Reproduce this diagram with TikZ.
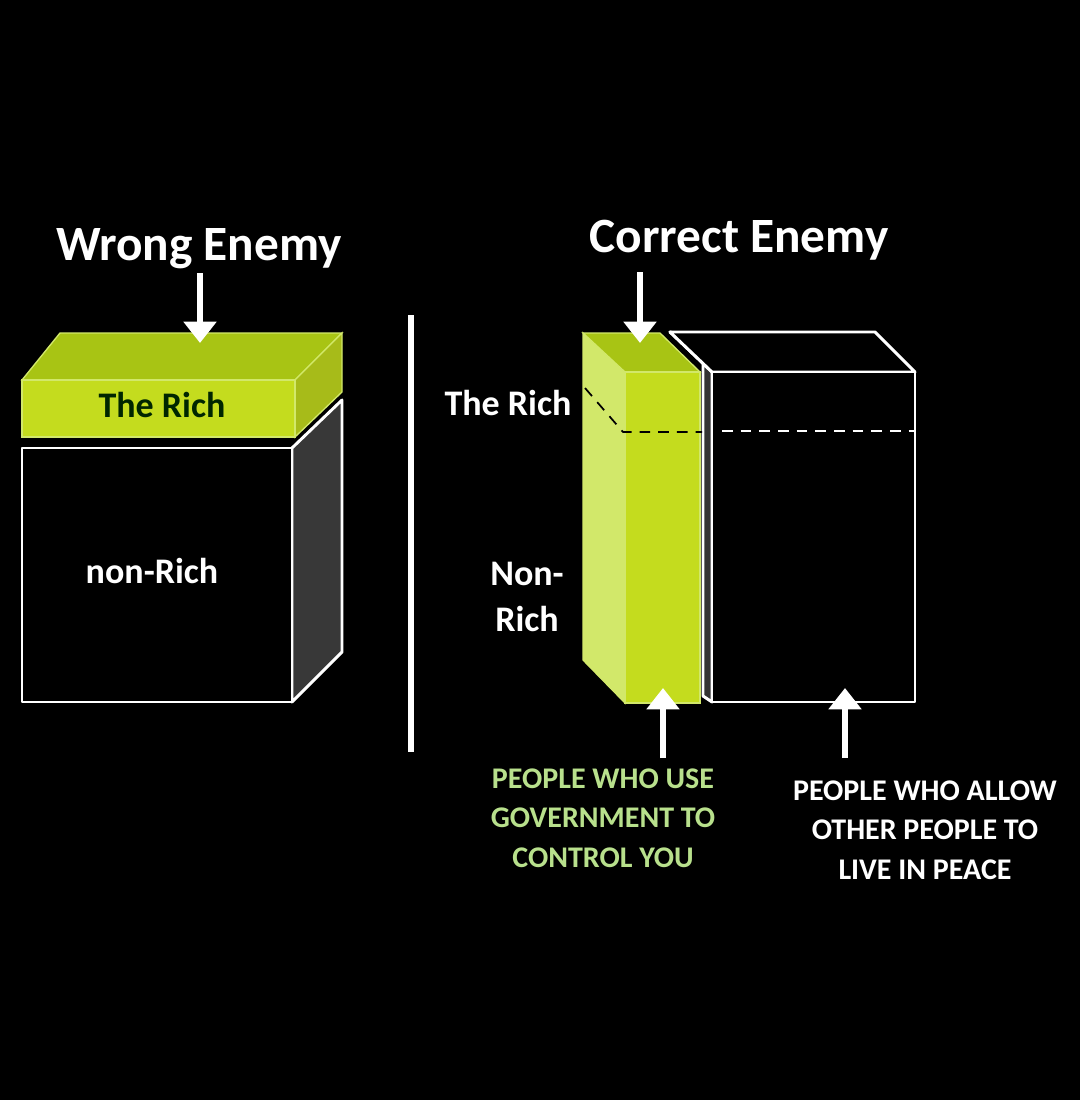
\documentclass[tikz,border=0pt]{standalone}
\usepackage{fontspec}
\setmainfont{Carlito}
\usetikzlibrary{arrows.meta}
\definecolor{lime}{HTML}{C4DC1E}
\definecolor{limel}{HTML}{D2E86A}
\definecolor{limed}{HTML}{A8C414}
\definecolor{gtext}{HTML}{B8E08C}
\tikzset{edge/.style={draw=white,line width=2.2pt,line join=round},
 arr/.style={draw=white,line width=5pt,-{Triangle[width=24pt,length=16pt]}},
 lbl/.style={text=white,font=\bfseries\fontsize{27}{31}\selectfont},
 ttl/.style={text=white,font=\bfseries\fontsize{37}{44}\selectfont},
 captext/.style={font=\bfseries\fontsize{22.5}{29.5}\selectfont,align=center}}
\begin{document}
\begin{tikzpicture}[x=0.75pt,y=-0.75pt]
\fill[black] (0,0) rectangle (1080,1100);
\useasboundingbox (0,0) rectangle (1080,1100);
% left black box
\filldraw[edge,fill=black!78!white] (292,448) -- (342,400) -- (342,652) -- (292,702) -- cycle;
\filldraw[edge,fill=black] (22,448) rectangle (292,702);
% slab
\filldraw[draw=limel,line width=1pt,fill=limed] (22,380) -- (60,333) -- (342,333) -- (295,380) -- cycle;
\filldraw[draw=limel,line width=1pt,fill=lime!85!black] (295,380) -- (342,333) -- (342,392) -- (295,437) -- cycle;
\filldraw[draw=limel,line width=1pt,fill=lime] (22,380) rectangle (295,437);
\node[font=\bfseries\fontsize{27}{31}\selectfont,text=black!85!green] (tr1) at (162,405) {The Rich};
\node[lbl] (nr1) at (152,571) {non-Rich};
\node[ttl] (we) at (199,249) {Wrong Enemy};
\coordinate (a1s) at (200,273);
\coordinate (a1e) at (200,343);
\draw[arr] (a1s) -- (a1e);
% divider
\coordinate (d1) at (411,315); \coordinate (d2) at (411,752);
\draw[white,line width=4pt] (d1) -- (d2);
% right black box
\filldraw[edge,fill=black!80!white] (670,332) -- (712,372) -- (712,702) -- (703,696) -- (703,340) -- cycle;
\filldraw[edge,fill=black] (670,332) -- (875,332) -- (915,372) -- (712,372) -- cycle;
\filldraw[edge,fill=black] (712,372) rectangle (915,702);
\draw[white,line width=1.3pt,dash pattern=on 8pt off 6pt] (722,431) -- (915,431);
% green column
\filldraw[draw=limel,line width=1pt,fill=limel] (583,333) -- (625,372) -- (625,703) -- (583,660) -- cycle;
\filldraw[draw=limel,line width=1pt,fill=limed] (583,333) -- (660,333) -- (700,372) -- (625,372) -- cycle;
\filldraw[draw=limel,line width=1pt,fill=lime] (625,372) rectangle (700,703);
\draw[black,line width=1.3pt,dash pattern=on 8pt off 6pt] (585,388) -- (623,432) -- (702,432);
\node[ttl] (ce) at (739,240) {Correct Enemy};
\coordinate (a2s) at (640,272);
\coordinate (a2e) at (640,343);
\draw[arr] (a2s) -- (a2e);
\node[lbl] (tr2) at (508,403) {The Rich};
\node[lbl,align=center,font=\bfseries\fontsize{27}{34}\selectfont] (nr2) at (527,597) {Non-\\Rich};
\coordinate (a3s) at (663,758); \coordinate (a3e) at (663,688);
\draw[arr] (a3s) -- (a3e);
\coordinate (a4s) at (845,758); \coordinate (a4e) at (845,688);
\draw[arr] (a4s) -- (a4e);
\node[captext,text=gtext] (g) at (603,818) {PEOPLE WHO USE\\GOVERNMENT TO\\CONTROL YOU};
\node[captext,text=white] (w) at (925,830) {PEOPLE WHO ALLOW\\OTHER PEOPLE TO\\LIVE IN PEACE};
\end{tikzpicture}
\end{document}
